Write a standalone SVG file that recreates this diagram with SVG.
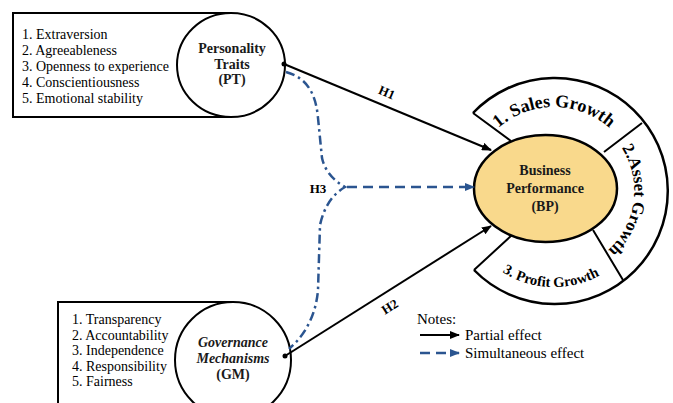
<svg xmlns="http://www.w3.org/2000/svg" width="673" height="403" viewBox="0 0 673 403">
<style>
.ln{fill:none;stroke:#000;stroke-width:2}
.lst{font-family:"Liberation Serif",serif;font-size:14px;fill:#000}
.ttl{font-family:"Liberation Serif",serif;font-size:14px;font-weight:bold;fill:#1a1a1a;text-anchor:middle}
.arc{font-family:"Liberation Serif",serif;font-weight:bold;fill:#000}
.lab{font-family:"Liberation Serif",serif;font-size:13px;font-weight:bold;fill:#000;text-anchor:middle}
.sol{fill:none;stroke:#000;stroke-width:2}
.dd{fill:none;stroke:#2B5590;stroke-width:2.5;stroke-dasharray:9 4 2.5 4}
.dsh{fill:none;stroke:#2B5590;stroke-width:2.5;stroke-dasharray:10 6}
.leg{font-family:"Liberation Serif",serif;font-size:15px;fill:#000}
</style>
<defs>
<marker id="ab" viewBox="0 0 10 8" refX="9" refY="4" markerWidth="10" markerHeight="8" markerUnits="userSpaceOnUse" orient="auto"><path d="M0,0 L10,4 L0,8 z" fill="#000"/></marker>
<marker id="au" viewBox="0 0 10 8" refX="9" refY="4" markerWidth="10" markerHeight="8" markerUnits="userSpaceOnUse" orient="auto"><path d="M0,0 L10,4 L0,8 z" fill="#2B5590"/></marker>
<path id="pTop" d="M470,191 A84,84 0 0,1 638,191"/>
<path id="pRight" d="M567.9,112.2 A80,80 0 0,1 547,270.7"/>
<path id="pBot" d="M458.9,204.4 A96,96 0 0,0 647.9,211"/>
</defs>

<g id="PT">
<path class="ln" d="M231,13 H13 V117 H231"/>
<text class="lst" x="22" y="38.5">1. Extraversion</text>
<text class="lst" x="22" y="54.5">2. Agreeableness</text>
<text class="lst" x="22" y="70.5">3. Openness to experience</text>
<text class="lst" x="22" y="86.5">4. Conscientiousness</text>
<text class="lst" x="22" y="102.5">5. Emotional stability</text>
<ellipse cx="231" cy="65" rx="54" ry="52" fill="#fff" stroke="#000" stroke-width="2"/>
<text class="ttl" x="232" y="53">Personality</text>
<text class="ttl" x="232" y="68.5">Traits</text>
<text class="ttl" x="232" y="84">(PT)</text>
</g>

<g id="GM">
<path class="ln" d="M233,302 H58 V410"/>
<text class="lst" x="72" y="324">1. Transparency</text>
<text class="lst" x="72" y="339.5">2. Accountability</text>
<text class="lst" x="72" y="355">3. Independence</text>
<text class="lst" x="72" y="370.5">4. Responsibility</text>
<text class="lst" x="72" y="386">5. Fairness</text>
<circle cx="233" cy="360" r="58" fill="#fff" stroke="#000" stroke-width="2"/>
<text class="ttl" x="233" y="347" font-style="italic" font-size="14.5">Governance</text>
<text class="ttl" x="233" y="363" font-style="italic" font-size="14.5">Mechanisms</text>
<text class="ttl" x="233" y="379" font-size="14.5">(GM)</text>
</g>

<g id="BP">
<path fill="#fff" stroke="#000" stroke-width="2.5" d="M473,113 A113,113 0 1,1 474,270"/>
<path class="ln" stroke-width="2.5" d="M473,113 L511,141 M642,123 L604,152 M623,280 L593,230 M474,270 L512,235"/>
<ellipse cx="545.5" cy="188.5" rx="71.5" ry="53.5" fill="#F9D98C" stroke="#000" stroke-width="2.5"/>
<text class="ttl" x="545" y="175" font-size="15">Business</text>
<text class="ttl" x="545" y="193" font-size="15">Performance</text>
<text class="ttl" x="545" y="211" font-size="15">(BP)</text>
<text class="arc" font-size="18"><textPath href="#pTop" startOffset="50%" text-anchor="middle">1. Sales Growth</textPath></text>
<text class="arc" font-size="17"><textPath href="#pRight" startOffset="50%" text-anchor="middle">2.Asset Growth</textPath></text>
<text class="arc" font-size="14.5"><textPath href="#pBot" startOffset="50%" text-anchor="middle">3. Profit Growth</textPath></text>
</g>

<g id="connectors">
<line class="sol" x1="284" y1="64" x2="491" y2="150" marker-end="url(#ab)"/>
<line class="sol" x1="285" y1="356" x2="491" y2="226" marker-end="url(#ab)"/>
<circle cx="284" cy="64" r="2.5"/>
<circle cx="285" cy="356" r="2.5"/>
<path class="dd" d="M286,72 C308,78 316,95 318,118 L322,158 Q326,176 345,187 Q326,198 320,225 L318,290 Q315,326 289,349"/>
<line class="dsh" x1="347" y1="187" x2="474" y2="187" marker-end="url(#au)"/>
<text class="lab" x="387" y="97" transform="rotate(23 387 92)">H1</text>
<text class="lab" x="390" y="311" transform="rotate(-32 390 307)">H2</text>
<text class="lab" x="318" y="193">H3</text>
</g>

<g id="legend">
<text class="leg" x="417" y="324">Notes:</text>
<line class="sol" x1="420" y1="335" x2="459" y2="335" marker-end="url(#ab)"/>
<text class="leg" x="465" y="340">Partial effect</text>
<line class="dsh" stroke-dasharray="7 5" x1="420" y1="353" x2="459" y2="353" marker-end="url(#au)"/>
<text class="leg" x="465" y="358">Simultaneous effect</text>
</g>
</svg>
